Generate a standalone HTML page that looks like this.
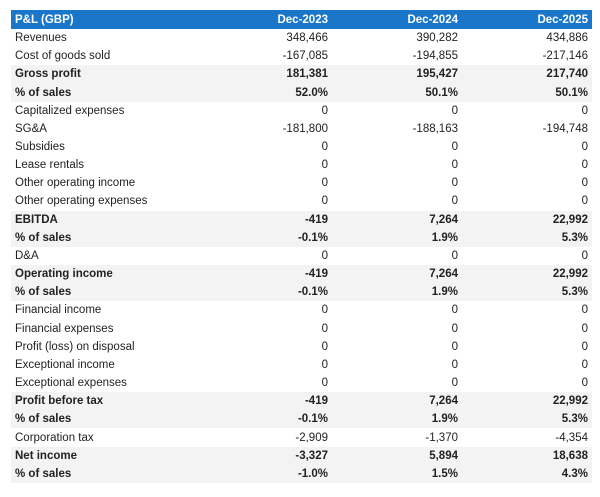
<!DOCTYPE html>
<html><head><style>
body{margin:0;background:#fff;font-family:"Liberation Sans",sans-serif;font-size:11.5px;color:#222}
table{position:absolute;left:11px;top:10px;width:581px;border-collapse:collapse}
td{height:18.17px;padding:0 4px;white-space:nowrap;line-height:12px}
td.n{text-align:right}
tr.h td{background:#1976c9;color:#fff;font-weight:bold;height:19px}
tr.b td{background:#f3f3f3;font-weight:bold}
</style></head><body>
<table>
<colgroup><col style="width:187px"><col style="width:134px"><col style="width:130px"><col style="width:130px"></colgroup>
<tr class="h"><td>P&amp;L (GBP)</td><td class="n">Dec-2023</td><td class="n">Dec-2024</td><td class="n">Dec-2025</td></tr>
<tr><td>Revenues</td><td class="n">348,466</td><td class="n">390,282</td><td class="n">434,886</td></tr>
<tr><td>Cost of goods sold</td><td class="n">-167,085</td><td class="n">-194,855</td><td class="n">-217,146</td></tr>
<tr class="b"><td>Gross profit</td><td class="n">181,381</td><td class="n">195,427</td><td class="n">217,740</td></tr>
<tr class="b"><td>% of sales</td><td class="n">52.0%</td><td class="n">50.1%</td><td class="n">50.1%</td></tr>
<tr><td>Capitalized expenses</td><td class="n">0</td><td class="n">0</td><td class="n">0</td></tr>
<tr><td>SG&amp;A</td><td class="n">-181,800</td><td class="n">-188,163</td><td class="n">-194,748</td></tr>
<tr><td>Subsidies</td><td class="n">0</td><td class="n">0</td><td class="n">0</td></tr>
<tr><td>Lease rentals</td><td class="n">0</td><td class="n">0</td><td class="n">0</td></tr>
<tr><td>Other operating income</td><td class="n">0</td><td class="n">0</td><td class="n">0</td></tr>
<tr><td>Other operating expenses</td><td class="n">0</td><td class="n">0</td><td class="n">0</td></tr>
<tr class="b"><td>EBITDA</td><td class="n">-419</td><td class="n">7,264</td><td class="n">22,992</td></tr>
<tr class="b"><td>% of sales</td><td class="n">-0.1%</td><td class="n">1.9%</td><td class="n">5.3%</td></tr>
<tr><td>D&amp;A</td><td class="n">0</td><td class="n">0</td><td class="n">0</td></tr>
<tr class="b"><td>Operating income</td><td class="n">-419</td><td class="n">7,264</td><td class="n">22,992</td></tr>
<tr class="b"><td>% of sales</td><td class="n">-0.1%</td><td class="n">1.9%</td><td class="n">5.3%</td></tr>
<tr><td>Financial income</td><td class="n">0</td><td class="n">0</td><td class="n">0</td></tr>
<tr><td>Financial expenses</td><td class="n">0</td><td class="n">0</td><td class="n">0</td></tr>
<tr><td>Profit (loss) on disposal</td><td class="n">0</td><td class="n">0</td><td class="n">0</td></tr>
<tr><td>Exceptional income</td><td class="n">0</td><td class="n">0</td><td class="n">0</td></tr>
<tr><td>Exceptional expenses</td><td class="n">0</td><td class="n">0</td><td class="n">0</td></tr>
<tr class="b"><td>Profit before tax</td><td class="n">-419</td><td class="n">7,264</td><td class="n">22,992</td></tr>
<tr class="b"><td>% of sales</td><td class="n">-0.1%</td><td class="n">1.9%</td><td class="n">5.3%</td></tr>
<tr><td>Corporation tax</td><td class="n">-2,909</td><td class="n">-1,370</td><td class="n">-4,354</td></tr>
<tr class="b"><td>Net income</td><td class="n">-3,327</td><td class="n">5,894</td><td class="n">18,638</td></tr>
<tr class="b"><td>% of sales</td><td class="n">-1.0%</td><td class="n">1.5%</td><td class="n">4.3%</td></tr>
</table>
</body></html>
